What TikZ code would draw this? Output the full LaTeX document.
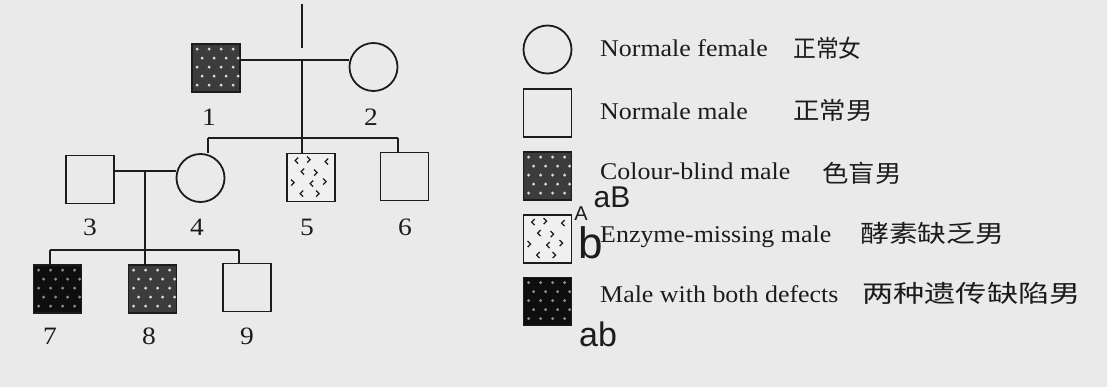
\documentclass[tikz,border=0pt]{standalone}
\usepackage{fontspec}
\setmainfont{Liberation Serif}
\newfontfamily\cjk{Noto Sans CJK SC}
\newfontfamily\hand{Liberation Sans}
\usetikzlibrary{calc}
\definecolor{paper}{RGB}{234,234,234}
\definecolor{cbfill}{RGB}{60,60,60}
\definecolor{bothfill}{RGB}{14,14,14}
\definecolor{enzfill}{RGB}{240,240,240}
\definecolor{ink}{RGB}{28,28,28}
\tikzset{
 line/.style={draw=ink, line width=1.8pt},
 male/.style={rectangle, draw=ink, line width=1.8pt, minimum size=48pt, inner sep=0pt},
 female/.style={circle, draw=ink, line width=1.8pt, minimum size=48pt, inner sep=0pt},
 cb/.style={male, fill=cbfill},
 both/.style={male, fill=bothfill},
 enz/.style={male, fill=enzfill},
 num/.style={font=\fontsize{25}{25}\selectfont, text=ink, inner sep=0pt},
 legtext/.style={font=\fontsize{24}{24}\selectfont, anchor=base west, inner sep=0pt, text=ink},
 hanzi/.style={font=\cjk\fontsize{24}{24}\selectfont, anchor=west, inner sep=0pt, text=ink},
 handw/.style={font=\hand, inner sep=0pt, text=ink},
}
\newcommand\pedDots[2]{%
 \foreach \j in {0,...,4}{\foreach \i in {0,...,3}{%
  \pgfmathsetmacro\xo{6+\i*12+mod(\j,2)*5}%
  \pgfmathsetmacro\yo{6+\j*9}%
  \fill[#2] ($(#1.north west)+(\xo,\yo)$) circle (1.6pt);}}}
\newcommand\pedEnzMarks[1]{%
 \foreach \xo/\yo/\s in {9/8/1,24/7/-1,39/9/1,15/19/1,31/20/-1,8/30/-1,24/31/1,40/29/-1,14/41/1,33/41/-1}{%
  \draw[ink, line width=1.2pt] ($(#1.north west)+(\xo+\s*3,\yo-3)$) -- ($(#1.north west)+(\xo,\yo)$) -- ($(#1.north west)+(\xo+\s*3,\yo+3)$);}}
\begin{document}
\begin{tikzpicture}[x=1pt,y=-1pt]
\fill[paper] (0,0) rectangle (1107,387);
\useasboundingbox (0,0) rectangle (1107,387);

% junction coordinates
\coordinate (top1) at (302,4);
\coordinate (top2) at (302,48);
\coordinate (m12) at (302,60);
\coordinate (s1) at (302,138);
\coordinate (d4) at (208,138);
\coordinate (d6) at (398,138);
\coordinate (m34) at (145,171);
\coordinate (s2) at (145,250);
\coordinate (d7) at (50,250);
\coordinate (d9) at (239,250);

% pedigree symbols
\node[cb] (n1) at (216,68) {};
\node[female] (n2) at (373.5,67) {};
\node[male] (n3) at (90,179.5) {};
\node[female] (n4) at (200.5,178) {};
\node[enz] (n5) at (311,177.5) {};
\node[male] (n6) at (404.5,176.5) {};
\node[both] (n7) at (57.5,289) {};
\node[cb] (n8) at (152.5,289) {};
\node[male] (n9) at (247,287.5) {};
\pedDots{n1}{white!85!black}
\pedDots{n8}{white!85!black}
\pedDots{n7}{white!55!black}
\pedEnzMarks{n5}

% connectors
\draw[line] (top1) -- (top2);
\draw[line] (n1.east |- m12) -- (n2.west |- m12);
\draw[line] (m12) -- (s1);
\draw[line] (d4) -- (d6);
\draw[line] (d4) -- (d4 |- n4.north);
\draw[line] (s1) -- (s1 |- n5.north);
\draw[line] (d6) -- (d6 |- n6.north);
\draw[line] (n3.east |- m34) -- (n4.west |- m34);
\draw[line] (m34) -- (s2);
\draw[line] (d7) -- (d9);
\draw[line] (d7) -- (d7 |- n7.north);
\draw[line] (s2) -- (s2 |- n8.north);
\draw[line] (d9) -- (d9 |- n9.north);

% numbers
\node[num] (l1) at (209,117) {\scalebox{1.1}[1]{1}};
\node[num] (l2) at (371,117) {\scalebox{1.1}[1]{2}};
\node[num] (l3) at (90,227) {\scalebox{1.1}[1]{3}};
\node[num] (l4) at (197,227) {\scalebox{1.1}[1]{4}};
\node[num] (l5) at (307,227) {\scalebox{1.1}[1]{5}};
\node[num] (l6) at (405,227) {\scalebox{1.1}[1]{6}};
\node[num] (l7) at (50,336) {\scalebox{1.1}[1]{7}};
\node[num] (l8) at (149,336) {\scalebox{1.1}[1]{8}};
\node[num] (l9) at (247,336) {\scalebox{1.1}[1]{9}};

% legend symbols
\node[female] (k1) at (547.5,49.5) {};
\node[male] (k2) at (547.5,113) {};
\node[cb] (k3) at (547.5,176) {};
\node[enz] (k4) at (547.5,239) {};
\node[both] (k5) at (547.5,301.5) {};
\pedDots{k3}{white!85!black}
\pedDots{k5}{white!55!black}
\pedEnzMarks{k4}

% legend texts
\node[legtext] (t1) at (600,57) {\scalebox{1.08}[1]{Normale female}};
\node[legtext] (t2) at (600,120) {\scalebox{1.08}[1]{Normale male}};
\node[legtext] (t3) at (600,180) {\scalebox{1.08}[1]{Colour-blind male}};
\node[legtext] (t4) at (600,242) {\scalebox{1.08}[1]{Enzyme-missing male}};
\node[legtext] (t5) at (600,302) {\scalebox{1.08}[1]{Male with both defects}};

% handwritten notes
\node[hanzi] (h1) at (793,48) {\scalebox{0.95}[1]{正常女}};
\node[hanzi] (h2) at (793,110) {\scalebox{1.1}[1]{正常男}};
\node[hanzi] (h3) at (822,173) {\scalebox{1.1}[1]{色盲男}};
\node[hanzi] (h4) at (860,233) {\scalebox{1.2}[1]{酵素缺乏男}};
\node[hanzi] (h5) at (862,293) {\scalebox{1.3}[1]{两种遗传缺陷男}};
\node[handw, font=\hand\fontsize{30}{30}\selectfont] (g1) at (612,197) {aB};
\node[handw, font=\hand\fontsize{20}{20}\selectfont] (g2) at (581,214) {A};
\node[handw, font=\hand\fontsize{44}{44}\selectfont] (g3) at (591,243) {b};
\node[handw, font=\hand\fontsize{34}{34}\selectfont] (g4) at (598,334) {ab};
\end{tikzpicture}
\end{document}
